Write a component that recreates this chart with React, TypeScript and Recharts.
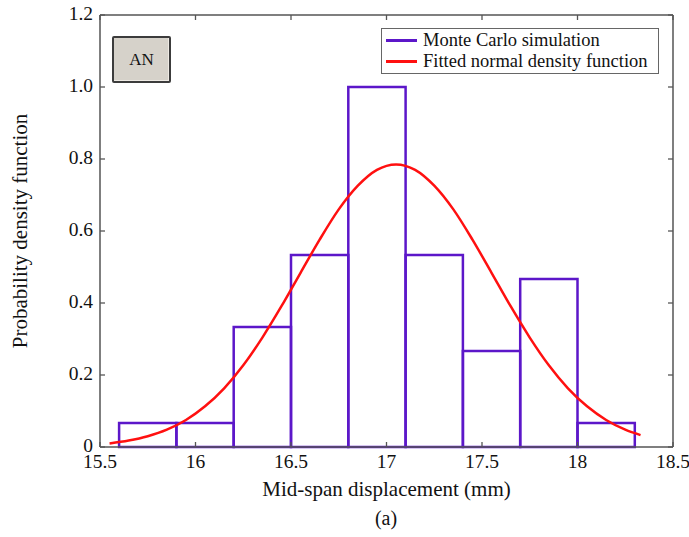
import { ComposedChart, Line, XAxis, YAxis, ReferenceArea } from "recharts";

// histogram bins (mm) and their density
const binEdges = [15.6, 15.9, 16.2, 16.5, 16.8, 17.1, 17.4, 17.7, 18.0, 18.3];
const binDensity = [0.067, 0.067, 0.333, 0.533, 1.0, 0.533, 0.267, 0.467, 0.067];

// fitted normal curve
const curveX = [
  15.55, 15.65, 15.75, 15.85, 15.95, 16.05, 16.15, 16.25, 16.35, 16.45, 16.55,
  16.65, 16.75, 16.85, 16.95, 17.05, 17.15, 17.25, 17.35, 17.45, 17.55, 17.65,
  17.75, 17.85, 17.95, 18.05, 18.15, 18.25, 18.33,
];
const curveY = [
  0.01, 0.018, 0.03, 0.048, 0.075, 0.113, 0.163, 0.227, 0.304, 0.391, 0.484,
  0.576, 0.66, 0.726, 0.77, 0.785, 0.77, 0.726, 0.66, 0.576, 0.484, 0.391,
  0.304, 0.227, 0.163, 0.113, 0.075, 0.048, 0.033,
];

const xTicks = [15.5, 16, 16.5, 17, 17.5, 18, 18.5];
const yTicks = [0, 0.2, 0.4, 0.6, 0.8, 1.0, 1.2];

const PURPLE = "#5c17c9";
const RED = "#ff1010";
const AXIS = "#555555";
const FONT = "'Liberation Serif', 'Times New Roman', serif";

const data = curveX.map((x, i) => ({ x, pdf: curveY[i] }));

const fmtY = (v: number) => (v === 0 ? "0" : v.toFixed(1));

function BottomTick({ x, y, payload }: any) {
  return (
    <g>
      <line x1={x} y1={y} x2={x} y2={y - 5} stroke={AXIS} strokeWidth={1.3} />
      <text x={x} y={y + 21} textAnchor="middle" fontSize={19.5} fontFamily={FONT} fill="#111">
        {payload.value}
      </text>
    </g>
  );
}

function LeftTick({ x, y, payload }: any) {
  return (
    <g>
      <line x1={x} y1={y} x2={x + 5} y2={y} stroke={AXIS} strokeWidth={1.3} />
      <text x={x - 7} y={y + 5} textAnchor="end" fontSize={19.5} fontFamily={FONT} fill="#111">
        {fmtY(payload.value)}
      </text>
    </g>
  );
}

function TopTick({ x, y }: any) {
  return <line x1={x} y1={y} x2={x} y2={y + 5} stroke={AXIS} strokeWidth={1.3} />;
}

function RightTick({ x, y }: any) {
  return <line x1={x} y1={y} x2={x - 5} y2={y} stroke={AXIS} strokeWidth={1.3} />;
}

const legendRows = [
  { color: PURPLE, label: "Monte Carlo simulation" },
  { color: RED, label: "Fitted normal density function" },
];

export default function App() {
  return (
    <div style={{ position: "absolute", left: 0, top: 0, width: 689, height: 537, background: "#fff" }}>
      <ComposedChart
        width={689}
        height={537}
        data={data}
        margin={{ top: 14, right: 15, bottom: 40, left: 0 }}
      >
        <XAxis
          dataKey="x"
          type="number"
          domain={[15.5, 18.5]}
          ticks={xTicks}
          allowDataOverflow
          height={50}
          tickSize={0}
          tickMargin={0}
          tickLine={false}
          axisLine={{ stroke: AXIS, strokeWidth: 1.5 }}
          tick={<BottomTick />}
          label={{
            value: "Mid-span displacement (mm)",
            position: "insideTop",
            offset: 34,
            fontSize: 21,
            fontFamily: FONT,
            fill: "#111",
          }}
        />
        <XAxis
          xAxisId="top"
          dataKey="x"
          type="number"
          orientation="top"
          domain={[15.5, 18.5]}
          ticks={xTicks}
          allowDataOverflow
          height={1}
          tickSize={0}
          tickMargin={0}
          tickLine={false}
          axisLine={{ stroke: AXIS, strokeWidth: 1.5 }}
          tick={<TopTick />}
        />
        <YAxis
          type="number"
          domain={[0, 1.2]}
          ticks={yTicks}
          allowDataOverflow
          width={100}
          tickSize={0}
          tickMargin={0}
          tickLine={false}
          axisLine={{ stroke: AXIS, strokeWidth: 1.5 }}
          tick={<LeftTick />}
          label={{
            value: "Probability density function",
            angle: -90,
            position: "insideLeft",
            offset: 20,
            fontSize: 21,
            fontFamily: FONT,
            fill: "#111",
            style: { textAnchor: "middle" },
          }}
        />
        <YAxis
          yAxisId="right"
          orientation="right"
          type="number"
          domain={[0, 1.2]}
          ticks={yTicks}
          allowDataOverflow
          width={1}
          tickSize={0}
          tickMargin={0}
          tickLine={false}
          axisLine={{ stroke: AXIS, strokeWidth: 1.5 }}
          tick={<RightTick />}
        />
        {binDensity.map((d, i) => (
          <ReferenceArea
            key={i}
            x1={binEdges[i]}
            x2={binEdges[i + 1]}
            y1={0}
            y2={d}
            fill="none"
            fillOpacity={0}
            stroke={PURPLE}
            strokeWidth={2.5}
            strokeOpacity={1}
            ifOverflow="visible"
          />
        ))}
        {/* invisible copy so the frame axes (top / right) get drawn */}
        <Line
          xAxisId="top"
          yAxisId="right"
          dataKey="pdf"
          stroke="none"
          strokeWidth={0}
          dot={false}
          activeDot={false}
          legendType="none"
          isAnimationActive={false}
        />
        <Line
          dataKey="pdf"
          type="monotone"
          stroke={RED}
          strokeWidth={2.5}
          dot={false}
          isAnimationActive={false}
        />
      </ComposedChart>
      <div
        style={{
          position: "absolute",
          left: 381,
          top: 28,
          width: 278,
          height: 46,
          boxSizing: "border-box",
          border: "1.5px solid #666",
          background: "#fff",
          padding: "1px 0 0 4px",
          fontFamily: FONT,
          fontSize: 18.5,
          color: "#111",
        }}
      >
        {legendRows.map((r) => (
          <div key={r.label} style={{ display: "flex", alignItems: "center", height: 21 }}>
            <span style={{ display: "inline-block", width: 31, height: 3, background: r.color, marginRight: 6 }} />
            <span style={{ lineHeight: "21px", whiteSpace: "nowrap" }}>{r.label}</span>
          </div>
        ))}
      </div>
      <div
        style={{
          position: "absolute",
          left: 112,
          top: 36,
          width: 59,
          height: 47,
          boxSizing: "border-box",
          background: "#d6d2ca",
          border: "2px solid #3c3c3c",
          borderRadius: 2,
          boxShadow: "inset -1px -1px 0 #eeeae4",
          display: "flex",
          alignItems: "center",
          justifyContent: "center",
          fontFamily: FONT,
          fontSize: 17,
          color: "#111",
        }}
      >
        AN
      </div>
      <div
        style={{
          position: "absolute",
          left: 336,
          top: 507,
          width: 100,
          textAlign: "center",
          fontFamily: FONT,
          fontSize: 20,
          lineHeight: "22px",
          color: "#111",
        }}
      >
        (a)
      </div>
    </div>
  );
}
